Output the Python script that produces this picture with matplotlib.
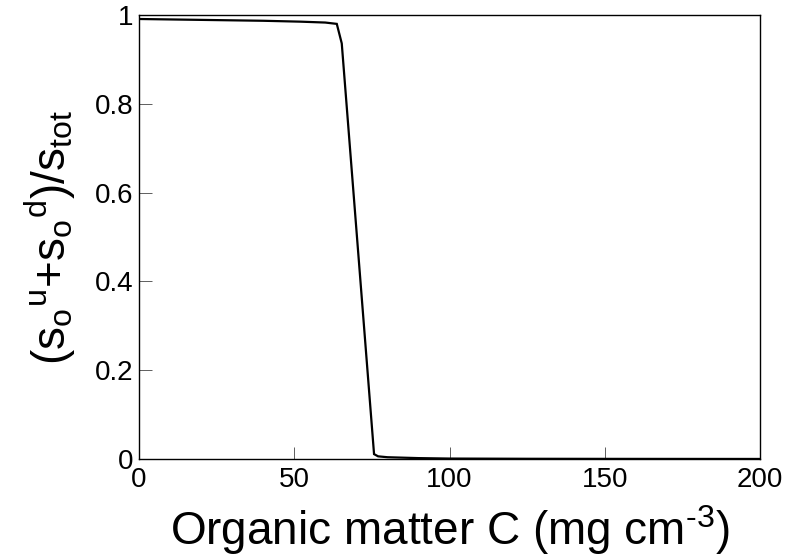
import matplotlib
matplotlib.use("Agg")
import matplotlib.pyplot as plt

# organic matter carbon (mg cm^-3) and the fraction of oxic sites
carbon = [0, 20, 40, 52, 60, 63.7, 65.3, 75.7, 77, 80, 90, 100, 125, 150, 175, 200]
oxic_frac = [0.991, 0.989, 0.987, 0.985, 0.983, 0.980, 0.936, 0.011, 0.006, 0.004,
             0.002, 0.001, 0.0005, 0.0003, 0.0002, 0.0001]

x_ticks = [0, 50, 100, 150, 200]
y_ticks = [0, 0.2, 0.4, 0.6, 0.8, 1]
y_tick_labels = ["0", "0.2", "0.4", "0.6", "0.8", "1"]

plt.rcParams.update({
    "font.family": ["Liberation Sans", "DejaVu Sans"],
    "mathtext.fontset": "custom",
    "mathtext.rm": "Liberation Sans",
    "mathtext.it": "Liberation Sans",
    "mathtext.bf": "Liberation Sans:bold",
})

W, H = 791, 560
fig = plt.figure(figsize=(W / 100, H / 100), dpi=100)
ax = fig.add_axes([139 / W, 101 / H, 621 / W, 444 / H])

ax.plot(carbon, oxic_frac, color="black", linewidth=1.6, solid_joinstyle="miter")

ax.set_xlim(0, 200)
ax.set_ylim(0, 1)
ax.set_xticks(x_ticks)
ax.set_xticklabels([str(t) for t in x_ticks])
ax.set_yticks(y_ticks)
ax.set_yticklabels(y_tick_labels)

for side in ax.spines.values():
    side.set_linewidth(1.0)
    side.set_color("black")

ax.tick_params(direction="in", length=9, width=0.6, color="#444444",
               labelsize=20, top=False, right=False)
ax.tick_params(axis="x", pad=5.8)
ax.tick_params(axis="y", pad=4.3)

fig.text(449.5 / W, 1 - 545 / H, r"Organic matter C (mg cm$^{\text{-3}}$)",
         ha="center", va="baseline", fontsize=33)
# braces around "+" keep mathtext from padding it like a binary operator
fig.text(50 / W, 1 - 238 / H, r"$\mathrm{(s_o{}^u{+}s_o{}^d)/s_{tot}}$",
         ha="center", va="center", rotation=90, fontsize=33)

fig.savefig("out.png", dpi=100)
